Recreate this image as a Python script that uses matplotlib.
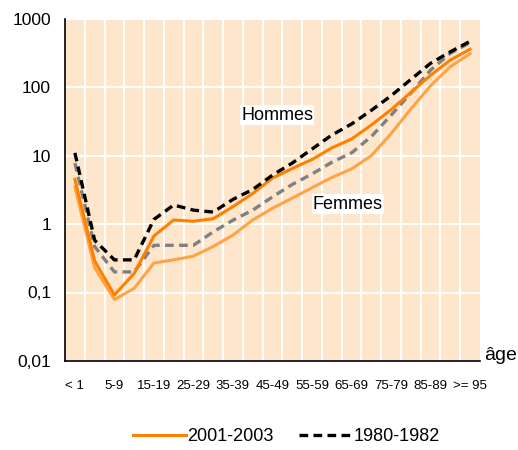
import matplotlib
matplotlib.use('Agg')
import matplotlib.pyplot as plt
from matplotlib.ticker import FixedLocator, FixedFormatter

plt.rcParams['font.family'] = ['Liberation Sans', 'DejaVu Sans']

# -------- données --------
ages = ['< 1', '1-4', '5-9', '10-14', '15-19', '20-24', '25-29', '30-34', '35-39',
        '40-44', '45-49', '50-54', '55-59', '60-64', '65-69', '70-74', '75-79',
        '80-84', '85-89', '90-94', '>= 95']
hommes_2001 = [4.5, 0.29, 0.092, 0.19, 0.67, 1.15, 1.1, 1.2, 1.8, 2.8, 4.7,
               6.5, 8.8, 13, 17.5, 28, 47, 84, 150, 250, 360]
femmes_2001 = [3.5, 0.23, 0.079, 0.115, 0.27, 0.30, 0.34, 0.47, 0.69, 1.15, 1.7,
               2.4, 3.4, 4.8, 6.4, 10, 21, 48, 105, 200, 310]
hommes_1980 = [11, 0.58, 0.30, 0.30, 1.17, 1.9, 1.6, 1.5, 2.3, 3.2, 5.2,
               7.8, 12.5, 20, 29, 46, 75, 130, 224, 330, 470]
femmes_1980 = [7.8, 0.47, 0.20, 0.20, 0.49, 0.49, 0.49, 0.77, 1.14, 1.6, 2.5,
               3.8, 5.4, 8, 11, 19, 39, 82, 178, 314, 450]
y_ticks = [0.01, 0.1, 1, 10, 100, 1000]
y_labels = ['0,01', '0,1', '1', '10', '100', '1000']

ORANGE = '#ff8000'
ORANGE_CLAIR = '#ffa446'

# -------- figure --------
fig = plt.figure(figsize=(5.18, 4.5), dpi=100)
ax = fig.add_axes([0.1255, 0.198, 0.801, 0.760])
ax.set_facecolor('#fde6cb')

x = list(range(len(ages)))
ax.plot(x, femmes_2001, '-', color=ORANGE_CLAIR, lw=2.2, zorder=3)
ax.plot(x, femmes_1980, '--', color='#808080', lw=2.4, dashes=(2.6, 1.6), zorder=3)
l_new, = ax.plot(x, hommes_2001, '-', color=ORANGE, lw=2.2, zorder=4, label='2001-2003')
l_old, = ax.plot(x, hommes_1980, '--', color='black', lw=2.4, dashes=(2.6, 1.6), zorder=5,
                 label='1980-1982')

ax.set_yscale('log')
ax.set_ylim(0.01, 1000)
ax.set_xlim(-0.5, len(ages) - 0.5)
ax.yaxis.set_major_locator(FixedLocator(y_ticks))
ax.yaxis.set_major_formatter(FixedFormatter(y_labels))
ax.yaxis.set_minor_locator(FixedLocator([]))
ax.set_xticks(x[::2])
ax.set_xticklabels(ages[::2], fontsize=9.5)
ax.set_xticks([i + 0.5 for i in x[:-1]], minor=True)
ax.tick_params(axis='y', labelsize=12.5, length=0, pad=10)
ax.tick_params(axis='x', length=0, pad=14)
ax.tick_params(which='minor', length=0)

ax.grid(True, which='major', axis='y', color='white', lw=1.4)
ax.grid(True, which='minor', axis='x', color='white', lw=1.4)
ax.set_axisbelow(True)

for s in ['top', 'right']:
    ax.spines[s].set_visible(False)
ax.spines['left'].set_linewidth(1.2)
ax.spines['bottom'].set_linewidth(1.2)

ax.text(1.01, 0.015, 'âge', transform=ax.transAxes, fontsize=14, va='center', ha='left')

box = dict(facecolor='white', edgecolor='none', pad=1)
ax.text(8.41, 39, 'Hommes', fontsize=13, ha='left', va='center', bbox=box, zorder=6)
ax.text(12.05, 1.96, 'Femmes', fontsize=13, ha='left', va='center', bbox=box, zorder=6)

fig.legend([l_new, l_old], ['2001-2003', '1980-1982'], loc='center',
           bbox_to_anchor=(0.553, 0.029), ncol=2, frameon=False, fontsize=13,
           handlelength=2.9, handletextpad=0.1, columnspacing=1.4)

fig.savefig('out.png', dpi=100)
